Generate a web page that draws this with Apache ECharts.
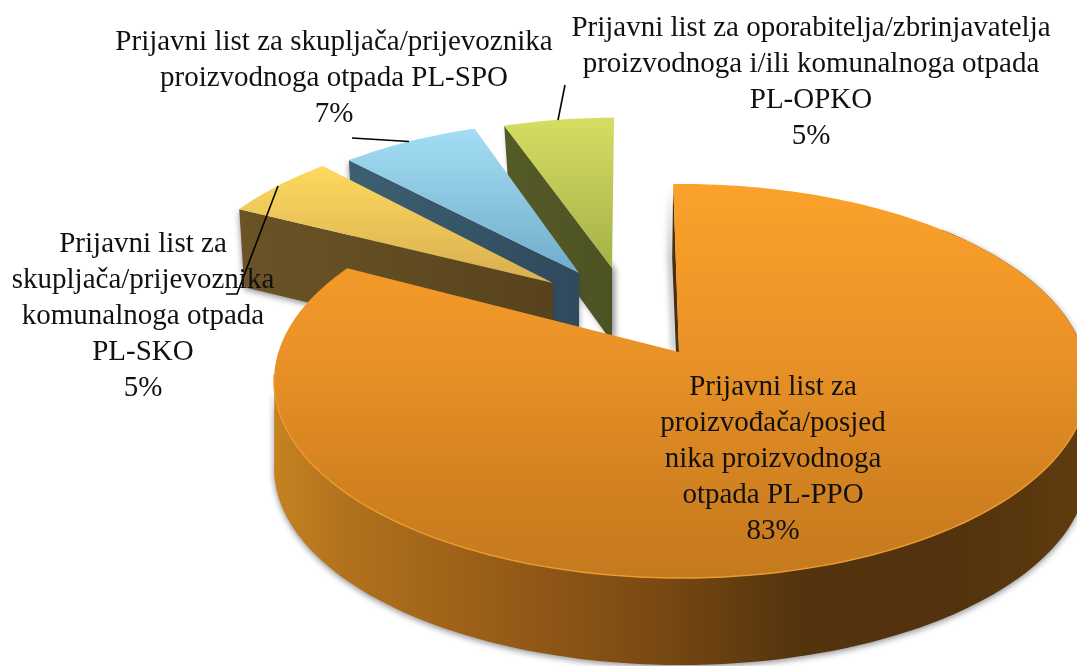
<!DOCTYPE html>
<html><head><meta charset="utf-8">
<style>html,body{margin:0;padding:0;background:#fff}#c{width:1077px;height:666px}</style>
<script src="https://cdn.jsdelivr.net/npm/echarts@6/dist/echarts.min.js"></script>
</head><body><div id="c"></div>
<script>
var categories = [
  'Prijavni list za\nproizvođača/posjed\nnika proizvodnoga\notpada PL-PPO',
  'Prijavni list za\nskupljača/prijevoznika\nkomunalnoga otpada\nPL-SKO',
  'Prijavni list za skupljača/prijevoznika\nproizvodnoga otpada PL-SPO',
  'Prijavni list za oporabitelja/zbrinjavatelja\nproizvodnoga i/ili komunalnoga otpada\nPL-OPKO'
];
var values = [83, 5, 7, 5];

// layout of the tilted, exploded pie (view geometry only)
var RX = 407, RY = 197, CENTER_DX = 2, CENTER_DY = 29, WARP = 7;
var apexes = [[679,352],[553,283],[579,273],[612,268]];
var rimScale = [1, 0.935, 0.918, 0.91];
var startShift = [-1.1, -1.0, 0, -1.4];
var endShift = [0, 0.8, -0.7, 0];
var depths = [87, 78, 88, 74];
var drawOrder = [4, 3, 2, 1];
var labelPos = [[773,459.5],[143,316],[334,78],[811,82]];
var leaders = [null, [[278,186],[237,294],[226,294]], [[352,138],[409,141.5]], [[558,120],[565,85]]];
var topFill = [
  [[0,'#fba22b'],[0.42,'#ea9227'],[0.8,'#d08020'],[1,'#c47a1e']],
  [[0,'#fcd95f'],[1,'#d9ae50']],
  [[0,'#a3ddf4'],[1,'#72accb']],
  [[0,'#d6dd62'],[1,'#a5b148']]
];
var topSpan = [[184,578],[168,283],[130,273],[118,268]];
var sideFill = [
  [[0,'#c48220'],[0.1,'#b0701c'],[0.3,'#945a17'],[0.47,'#7a4a12'],[0.65,'#54340e'],[0.85,'#52330d'],[1,'#5f3b0f']],
  [[0,'#6a5426'],[1,'#58421c']],
  [[0,'#3e5f72'],[1,'#2e4a5c']],
  [[0,'#555b27'],[1,'#4d5222']]
];
var sideSpan = [[275,1077],[238,553],[350,579],[504,612]];
var FONT = '29px "Liberation Serif", serif';
var LINE = 36;

function warp(deg){ return deg - WARP * Math.sin(deg * Math.PI / 180); }
function rimPoint(i, phi){
  var a = apexes[i], r = rimScale[i], t = phi * Math.PI / 180;
  return [a[0] + CENTER_DX + r * RX * Math.sin(t), a[1] + CENTER_DY - r * RY * Math.cos(t)];
}
function linear(horizontal, span, stops){
  return {type:'linear', global:true,
    x: horizontal ? span[0] : 0, y: horizontal ? 0 : span[0],
    x2: horizontal ? span[1] : 0, y2: horizontal ? 0 : span[1],
    colorStops: stops.map(function(s){return {offset:s[0], color:s[1]};})};
}
var total = values.reduce(function(a,b){return a+b;},0);

function renderItem(params, api){
  var i = params.dataIndex, v = api.value(0), before = 0;
  for (var k = 0; k < i; k++) before += values[k];
  var a0 = warp(before / total * 360) + startShift[i];
  var a1 = warp((before + v) / total * 360) + endShift[i];
  var rim = [], n = Math.max(12, Math.round(a1 - a0));
  for (var s = 0; s <= n; s++) rim.push(rimPoint(i, a0 + (a1 - a0) * s / n));
  var apex = apexes[i], d = depths[i], z = drawOrder[i] * 10, kids = [];

  // extruded side wall
  var side;
  if (i === 0) {
    var up = [], down = [], front = [];
    for (var p = 40; p <= 272; p += 2) {
      var q = rimPoint(0, p);
      up.push(q); down.push([q[0], q[1] + d]);
      if (p >= 78) front.push(q);
    }
    side = up.concat(down.slice().reverse());
    kids.push({type:'polyline', z2:z+1, shape:{points:front}, style:{fill:'none', stroke:'#eb9a2e', lineWidth:1.5}});
    // thin visible wall of the straight cut
    kids.push({type:'polygon', z2:z-1, shape:{points:[rim[0], apex, [apex[0]-3,apex[1]], [rim[0][0]-1,rim[0][1]+75]]},
      style:{fill:'#4a300e', shadowBlur:6, shadowColor:'rgba(60,60,70,0.6)', shadowOffsetX:-3}});
  } else {
    var r0 = rim[0];
    side = [r0, apex, [apex[0], apex[1] + d], [r0[0] + 5, r0[1] + d]];
  }
  kids.push({type:'polygon', z2:z-1, shape:{points:side},
    style:{fill:linear(true, sideSpan[i], sideFill[i]), shadowBlur:6, shadowColor:'rgba(50,50,60,0.55)', shadowOffsetX:i===3?3:0, shadowOffsetY:2}});

  // top face
  kids.push({type:'polygon', z2:z, shape:{points:[apex].concat(rim)},
    style:{fill:linear(false, topSpan[i], topFill[i])}});

  // leader line
  if (leaders[i]) kids.push({type:'polyline', z2:90, shape:{points:leaders[i]},
    style:{fill:'none', stroke:'#000', lineWidth:1.6}});

  // label
  kids.push({type:'text', z2:100, style:{
    text: categories[i] + '\n' + v + '%', x: labelPos[i][0], y: labelPos[i][1],
    align:'center', verticalAlign:'middle', font:FONT, lineHeight:LINE, fill:'#111'}});
  return {type:'group', children:kids};
}

var chart = echarts.init(document.getElementById('c'), null, {renderer:'canvas'});
chart.setOption({
  backgroundColor:'#fff', animation:false,
  series:[{type:'custom', coordinateSystem:'none', silent:true, clip:false,
    renderItem:renderItem, data:values.map(function(v){return [v];})}]
});
</script></body></html>
